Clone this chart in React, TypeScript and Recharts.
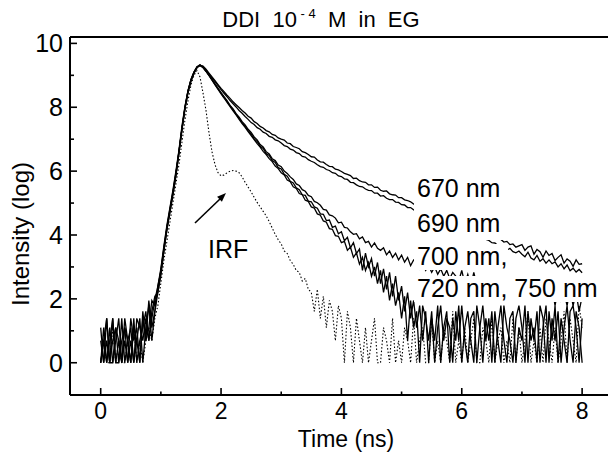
import React from 'react';
import { LineChart, Line, XAxis, YAxis, ReferenceLine } from 'recharts';

const FONT = '"Liberation Sans", Arial, Helvetica, sans-serif';

// time grid step (ns): values below are sampled every 0.05 ns from 0 to 8 ns
const TIME_STEP = 0.05;

const xTicks = [0, 1, 2, 3, 4, 5, 6, 7, 8];
const xTickLabels = ['0', '', '2', '', '4', '', '6', '', '8'];
const yTicks = [0, 1, 2, 3, 4, 5, 6, 7, 8, 9, 10];
const yTickLabels = ['0', '', '2', '', '4', '', '6', '', '8', '', '10'];

const s670 = [
  0, 1.1, 0, 0.69, 1.39, 0, 0.69, 0, 1.1, 0.69,
  0, 1.39, 0, 0.69, 1.1, 1.61, 0.69, 1.39, 1.95, 2.4,
  2.85, 3.55, 4.2, 4.75, 5.3, 5.9, 6.6, 7.35, 8.0, 8.5,
  8.85, 9.08, 9.25, 9.32, 9.29, 9.19, 9.07, 8.95, 8.83, 8.71,
  8.59, 8.49, 8.38, 8.28, 8.17, 8.08, 7.99, 7.9, 7.82, 7.72,
  7.66, 7.55, 7.49, 7.4, 7.35, 7.27, 7.23, 7.15, 7.12, 7.04,
  7.0, 6.97, 6.88, 6.86, 6.77, 6.74, 6.7, 6.61, 6.58, 6.52,
  6.45, 6.44, 6.35, 6.29, 6.28, 6.21, 6.15, 6.14, 6.06, 6.04,
  5.99, 5.93, 5.9, 5.86, 5.77, 5.78, 5.7, 5.66, 5.65, 5.57,
  5.57, 5.49, 5.5, 5.4, 5.37, 5.38, 5.29, 5.26, 5.25, 5.17,
  5.17, 5.1, 5.08, 5.04, 4.97, 4.98, 4.89, 4.88, 4.84, 4.78,
  4.77, 4.7, 4.69, 4.62, 4.6, 4.57, 4.5, 4.49, 4.43, 4.4,
  4.38, 4.3, 4.31, 4.22, 4.2, 4.18, 4.1, 4.1, 4.02, 3.99,
  3.98, 3.92, 3.88, 3.86, 3.78, 3.8, 3.7, 3.72, 3.62, 3.66,
  3.7, 3.52, 3.62, 3.66, 3.4, 3.55, 3.48, 3.3, 3.5, 3.36,
  3.42, 3.2, 3.3, 3.38, 3.12, 3.25, 3.18, 3.02, 3.22, 3.08,
  3.1,
];

const s690 = [
  0.69, 0, 1.39, 0, 0.69, 1.1, 0, 1.39, 0, 0.69,
  1.1, 0, 0.69, 1.39, 0, 1.1, 1.79, 0.69, 1.61, 2.2,
  2.75, 3.5, 4.15, 4.7, 5.25, 5.85, 6.55, 7.3, 7.95, 8.45,
  8.82, 9.06, 9.24, 9.32, 9.27, 9.16, 9.04, 8.92, 8.8, 8.68,
  8.55, 8.44, 8.33, 8.21, 8.11, 8.01, 7.9, 7.81, 7.71, 7.62,
  7.52, 7.46, 7.36, 7.31, 7.22, 7.18, 7.09, 7.06, 6.98, 6.95,
  6.88, 6.8, 6.77, 6.69, 6.66, 6.58, 6.55, 6.46, 6.44, 6.36,
  6.31, 6.27, 6.2, 6.14, 6.12, 6.05, 6.02, 5.95, 5.93, 5.85,
  5.83, 5.76, 5.74, 5.65, 5.64, 5.57, 5.52, 5.51, 5.44, 5.4,
  5.39, 5.31, 5.31, 5.22, 5.23, 5.15, 5.11, 5.11, 5.03, 5.02,
  4.95, 4.94, 4.86, 4.86, 4.79, 4.77, 4.72, 4.7, 4.64, 4.62,
  4.57, 4.54, 4.47, 4.46, 4.4, 4.37, 4.35, 4.29, 4.26, 4.22,
  4.18, 4.15, 4.08, 4.07, 4.01, 3.96, 3.96, 3.88, 3.86, 3.83,
  3.76, 3.75, 3.67, 3.62, 3.64, 3.53, 3.58, 3.48, 3.44, 3.5,
  3.4, 3.32, 3.46, 3.28, 3.22, 3.36, 3.18, 3.26, 3.12, 3.22,
  3.1, 3.16, 3.0, 3.1, 2.94, 3.06, 2.88, 2.96, 2.84, 2.92,
  2.82,
];

const s700 = [
  0, 0.69, 0, 1.1, 0, 0.69, 1.39, 0, 0.69, 0,
  1.39, 0.69, 1.1, 0, 1.61, 0.69, 1.1, 1.95, 1.79, 2.3,
  2.9, 3.6, 4.25, 4.8, 5.35, 5.95, 6.6, 7.3, 7.98, 8.5,
  8.86, 9.1, 9.26, 9.31, 9.26, 9.14, 9.01, 8.87, 8.73, 8.59,
  8.46, 8.33, 8.21, 8.06, 7.95, 7.8, 7.69, 7.55, 7.45, 7.31,
  7.21, 7.07, 6.98, 6.83, 6.76, 6.61, 6.54, 6.39, 6.33, 6.19,
  6.14, 6.0, 5.93, 5.82, 5.74, 5.6, 5.55, 5.42, 5.37, 5.24,
  5.2, 5.05, 5.01, 4.93, 4.8, 4.78, 4.63, 4.6, 4.53, 4.38,
  4.4, 4.24, 4.22, 4.1, 4.02, 4.04, 3.88, 3.94, 3.76, 3.8,
  3.62, 3.75, 3.58, 3.52, 3.6, 3.38, 3.5, 3.3, 3.43, 3.22,
  3.37, 3.15, 3.3, 3.04, 3.22, 3.14, 2.94, 3.09, 2.89, 3.04,
  2.83, 3.0, 2.77, 2.94, 2.71, 2.89, 2.64, 2.83, 2.71, 2.56,
  2.89, 2.48, 2.77, 2.4, 2.83, 2.42, 2.64, 2.3, 2.71, 2.3,
  2.71, 2.2, 2.64, 2.3, 2.56, 2.08, 2.64, 2.2, 2.48, 2.08,
  2.56, 2.08, 2.48, 1.95, 2.4, 2.08, 2.48, 1.95, 2.3, 1.95,
  2.4, 1.79, 2.3, 1.95, 2.2, 1.79, 2.3, 1.79, 2.2, 1.61,
  2.08,
];

const s720 = [
  1.1, 0, 0.69, 0, 1.39, 0, 0, 0.69, 1.1, 0,
  0.69, 0, 1.39, 1.1, 0.69, 1.39, 0.69, 1.61, 2.08, 2.2,
  2.8, 3.5, 4.2, 4.75, 5.3, 5.9, 6.6, 7.3, 7.95, 8.48,
  8.84, 9.08, 9.25, 9.3, 9.25, 9.13, 9.0, 8.86, 8.72, 8.58,
  8.44, 8.31, 8.18, 8.04, 7.92, 7.78, 7.65, 7.52, 7.4, 7.27,
  7.16, 7.01, 6.93, 6.78, 6.71, 6.55, 6.49, 6.33, 6.27, 6.11,
  6.07, 5.9, 5.84, 5.68, 5.63, 5.48, 5.42, 5.26, 5.24, 5.06,
  5.04, 4.88, 4.84, 4.66, 4.65, 4.45, 4.47, 4.24, 4.28, 4.04,
  4.1, 3.82, 3.93, 3.6, 3.76, 3.42, 3.56, 2.89, 3.43, 3.0,
  3.26, 2.71, 3.14, 2.48, 2.94, 2.3, 2.83, 2.08, 2.71, 1.95,
  2.4, 1.61, 2.2, 1.39, 1.95, 1.1, 1.79, 0.69, 1.61, 0,
  1.39, 0.69, 1.79, 0, 1.1, 1.61, 0, 1.39, 0.69, 1.79,
  0, 1.1, 1.61, 0.69, 0, 1.79, 1.1, 0, 1.39, 0.69,
  1.61, 0, 1.1, 1.79, 0.69, 0, 1.39, 1.61, 0, 1.1,
  0.69, 1.79, 0, 1.39, 0.69, 1.61, 0, 1.1, 1.79, 0,
  1.39, 0.69, 1.61, 0, 1.1, 1.79, 0.69, 0, 1.61, 1.1,
  0,
];

const s750 = [
  0, 0.69, 1.39, 0, 0, 1.1, 0.69, 0, 1.39, 0.69,
  0, 1.1, 0.69, 0, 1.39, 0.69, 1.95, 1.1, 1.61, 2.4,
  2.95, 3.65, 4.3, 4.85, 5.4, 6.0, 6.65, 7.4, 8.02, 8.52,
  8.87, 9.1, 9.27, 9.33, 9.24, 9.12, 8.99, 8.85, 8.7, 8.56,
  8.42, 8.29, 8.15, 8.02, 7.89, 7.76, 7.62, 7.49, 7.37, 7.24,
  7.11, 6.99, 6.86, 6.75, 6.62, 6.52, 6.39, 6.3, 6.16, 6.08,
  5.95, 5.88, 5.72, 5.67, 5.51, 5.46, 5.3, 5.26, 5.09, 5.05,
  4.88, 4.84, 4.66, 4.62, 4.44, 4.4, 4.2, 4.18, 3.98, 3.96,
  3.76, 3.8, 3.52, 3.62, 3.3, 3.44, 3.09, 3.3, 2.89, 3.14,
  2.71, 3.0, 2.48, 2.89, 2.2, 2.71, 1.95, 2.48, 1.79, 2.2,
  1.39, 2.08, 0.69, 1.95, 1.1, 1.61, 0, 1.79, 1.39, 0.69,
  1.61, 0, 1.1, 1.79, 0.69, 1.39, 1.1, 0, 1.61, 0.69,
  1.79, 0.69, 0, 1.39, 1.61, 0, 1.1, 1.79, 0.69, 1.39,
  0, 1.61, 0.69, 0, 1.79, 1.1, 0.69, 0, 1.39, 1.79,
  1.1, 0, 1.61, 0.69, 1.1, 0, 1.79, 1.39, 0, 1.61,
  0.69, 1.79, 0, 1.39, 0.69, 0, 1.61, 1.79, 1.1, 0,
  1.39,
];

const sIRF = [
  0, 0.69, 0, 0, 1.1, 0, 0.69, 0, 0, 0.69,
  0, 1.1, 0, 0.69, 0, 0.69, 1.1, 0.69, 1.39, 1.79,
  2.5, 3.2, 3.8, 4.4, 5.0, 5.6, 6.2, 6.9, 7.6, 8.2,
  8.7, 9.0, 9.15, 8.95, 8.45, 7.9, 7.2, 6.6, 6.2, 5.95,
  5.85, 5.88, 5.95, 6.0, 6.02, 6.0, 5.95, 5.82, 5.65, 5.5,
  5.35, 5.18, 5.02, 4.88, 4.74, 4.6, 4.42, 4.22, 4.02, 3.85,
  3.72, 3.5, 3.42, 3.2, 3.08, 2.89, 2.83, 2.56, 2.64, 2.3,
  2.2, 1.61, 2.3, 1.39, 2.08, 1.1, 1.95, 1.61, 0.69, 1.79,
  1.39, 0, 1.61, 1.1, 0, 1.39, 0.69, 0, 1.1, 0,
  0.69, 1.39, 0, 0, 1.1, 0.69, 0, 1.39, 0, 0.69,
  0, 1.1, 0.69, 0, 1.39, 0, 0.69, 1.1, 0, 0,
  1.39, 0, 0.69, 0, 1.1, 0.69, 0, 1.61, 0, 0.69,
  0, 1.1, 0, 0.69, 1.39, 0, 0, 1.1, 0.69, 0,
  1.39, 0, 0.69, 1.1, 0, 0.69, 0, 1.39, 0, 1.1,
  0, 0.69, 1.61, 0, 0.69, 0, 1.1, 0, 1.39, 0.69,
  0, 1.1, 0, 0.69, 1.61, 0, 1.39, 0.69, 0, 1.79,
  1.1,
];

const seriesKeys = ['s670', 's690', 's700', 's720', 's750'];

const data = s670.map((_, i) => ({
  t: Math.round(i * TIME_STEP * 100) / 100,
  s670: s670[i],
  s690: s690[i],
  s700: s700[i],
  s720: s720[i],
  s750: s750[i],
  irf: sIRF[i],
}));

const curveLabels = [
  { text: '670 nm', x: 417, y: 197, box: [414, 176, 90, 25] },
  { text: '690 nm', x: 417, y: 232, box: [414, 203, 90, 37] },
  { text: '700 nm,', x: 417, y: 265, box: [414, 244, 94, 26] },
  { text: '720 nm, 750 nm', x: 417, y: 297, box: [414, 276, 186, 26] },
];

const XTick = (props: any) => {
  const { x, y, payload } = props;
  const idx = xTicks.indexOf(payload.value);
  const label = xTickLabels[idx] ?? '';
  const major = label !== '';
  return (
    <g>
      <line x1={x} x2={x} y1={y} y2={y - (major ? 7 : 3.5)} stroke="#000" strokeWidth={1.6} />
      {major && (
        <text x={x} y={y + 24} textAnchor="middle" fontSize={23} fontFamily={FONT} fill="#000">
          {label}
        </text>
      )}
    </g>
  );
};

const YTick = (props: any) => {
  const { x, y, payload } = props;
  const idx = yTicks.indexOf(payload.value);
  const label = yTickLabels[idx] ?? '';
  const major = label !== '';
  return (
    <g>
      <line x1={x} x2={x + (major ? 7 : 4)} y1={y} y2={y} stroke="#000" strokeWidth={1.6} />
      {major && (
        <text x={x - 7} y={y + 9} textAnchor="end" fontSize={25} fontFamily={FONT} fill="#000">
          {label}
        </text>
      )}
    </g>
  );
};

export default function App() {
  return (
    <div style={{ position: 'absolute', left: 0, top: 0, width: 608, height: 452, background: '#fff' }}>
      <LineChart
        width={608}
        height={452}
        data={data}
        margin={{ top: 37, right: 0, bottom: 0, left: 0 }}
      >
        <XAxis
          dataKey="t"
          type="number"
          domain={[-0.51, 8.43]}
          ticks={xTicks}
          interval={0}
          height={57}
          tickSize={0}
          tickMargin={0}
          tickLine={false}
          tick={XTick}
          axisLine={{ stroke: '#000', strokeWidth: 2 }}
        />
        <YAxis
          type="number"
          domain={[-1.01, 10.2]}
          ticks={yTicks}
          interval={0}
          width={70}
          tickSize={0}
          tickMargin={0}
          tickLine={false}
          tick={YTick}
          axisLine={{ stroke: '#000', strokeWidth: 2 }}
        />
        <ReferenceLine y={10.2} stroke="#000" strokeWidth={2} ifOverflow="visible" />
        <Line
          dataKey="irf"
          stroke="#000"
          strokeWidth={1.1}
          strokeDasharray="1.5 2"
          dot={false}
          activeDot={false}
          isAnimationActive={false}
        />
        {seriesKeys.map((k) => (
          <Line
            key={k}
            dataKey={k}
            stroke="#000"
            strokeWidth={1.3}
            dot={false}
            activeDot={false}
            isAnimationActive={false}
          />
        ))}
      </LineChart>
      <svg
        width={608}
        height={452}
        style={{ position: 'absolute', left: 0, top: 0, pointerEvents: 'none' }}
        fontFamily={FONT}
      >
        <text x={321} y={27} textAnchor="middle" fontSize={22} fill="#000" style={{ whiteSpace: 'pre' }}>
          {'DDI  10'}
          <tspan dy={-9} fontSize={13}>{' - 4'}</tspan>
          <tspan dy={9}>{'  M  in  EG'}</tspan>
        </text>
        {curveLabels.map((l) => (
          <g key={l.text}>
            <rect x={l.box[0]} y={l.box[1]} width={l.box[2]} height={l.box[3]} fill="#fff" />
            <text x={l.x} y={l.y} fontSize={25} fill="#000">
              {l.text}
            </text>
          </g>
        ))}
        <text x={208} y={258} fontSize={25} fill="#000">IRF</text>
        <line x1={195} y1={223} x2={220} y2={199} stroke="#000" strokeWidth={1.6} />
        <polygon points="226,193 221.9,201.8 217.1,196.8" fill="#000" />
        <text x={346} y={447} textAnchor="middle" fontSize={23} fill="#000">Time (ns)</text>
        <text
          x={0}
          y={0}
          transform="translate(29,234) rotate(-90)"
          textAnchor="middle"
          fontSize={24}
          fill="#000"
        >
          Intensity (log)
        </text>
      </svg>
    </div>
  );
}
